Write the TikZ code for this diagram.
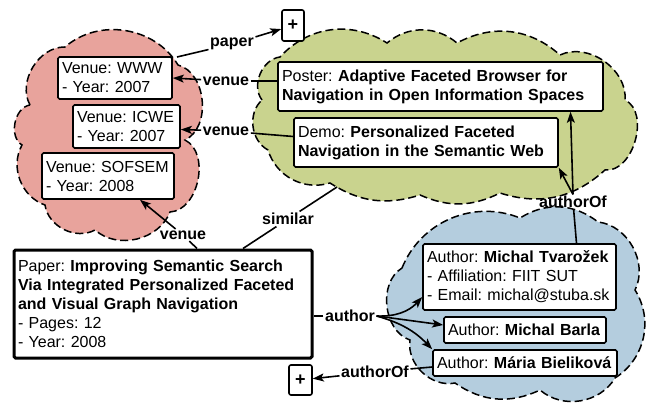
\documentclass[tikz,border=0pt]{standalone}
\usepackage{fontspec}
\setmainfont{Liberation Sans}
\usetikzlibrary{arrows.meta}
\newcommand\dgfs{\fontsize{16}{19}\selectfont\frenchspacing}
\newcommand\oneline[1]{\mbox{#1}}
\definecolor{redcl}{RGB}{232,163,156}
\definecolor{greencl}{RGB}{201,211,142}
\definecolor{bluecl}{RGB}{180,205,222}
\frenchspacing
\begin{document}
\begin{tikzpicture}[x=1pt,y=1pt,
  cloudst/.style={draw=black, line width=1.5pt, dash pattern=on 8pt off 4pt},
  box/.style={draw, fill=white, line width=1.6pt, rounded corners=1.5pt, align=left,
    inner xsep=4pt, inner ysep=0pt, font=\dgfs},
  plusbox/.style={draw, fill=white, line width=1.6pt, rounded corners=2pt,
    minimum width=22pt, minimum height=30pt, inner sep=0pt, font=\fontsize{18}{20}\selectfont\bfseries},
  lab/.style={font=\dgfs\bfseries, inner sep=1.5pt},
  ln/.style={line width=1.6pt},
  arr/.style={-{Stealth[length=11pt,width=8pt,inset=2.5pt]}}
]
\useasboundingbox (0,0) rectangle (652,-403);

% clouds
\path[cloudst, fill=redcl]
  (30,-105) to[bend left=60] (65,-47) to[bend left=50] (178,-65)
  to[bend left=70] (185,-140) to[bend left=75] (170,-212)
  to[bend left=55] (95,-230) to[bend left=55] (45,-205)
  to[bend left=50] (22,-145) to[bend left=70] (30,-105) -- cycle;
\path[cloudst, fill=greencl]
  (262,-100) to[bend left=60] (280,-57) to[bend left=40] (387,-43)
  to[bend left=40] (457,-43) to[bend left=35] (560,-55)
  to[bend left=60] (625,-100) to[bend left=80] (605,-170)
  to[bend left=30] (500,-193) to[bend left=25] (420,-195)
  to[bend left=25] (330,-183) to[bend left=45] (268,-150)
  to[bend left=55] (262,-100) -- cycle;
\path[cloudst, fill=bluecl]
  (402,-268) to[bend left=45] (520,-218) to[bend left=35] (598,-222)
  to[bend left=55] (635,-290) to[bend left=45] (615,-378)
  to[bend left=50] (540,-390) to[bend left=30] (455,-383)
  to[bend left=55] (410,-340) to[bend left=65] (402,-268) -- cycle;

% boxes
\node[box, text width=106pt, minimum height=42pt] (www) at (115,-78)
  {\oneline{Venue: WWW}\\\oneline{- Year: 2007}};
\node[box, text width=99pt, minimum height=43pt] (icwe) at (126.5,-126.5)
  {\oneline{Venue: ICWE}\\\oneline{- Year: 2007}};
\node[box, text width=124pt, minimum height=46pt] (sofsem) at (108,-176)
  {\oneline{Venue: SOFSEM}\\\oneline{- Year: 2008}};
\node[box, text width=317pt, minimum height=49pt] (poster) at (440.5,-86.5)
  {\oneline{Poster: \textbf{Adaptive Faceted Browser for}}\\\oneline{\textbf{Navigation in Open Information Spaces}}};
\node[box, text width=256pt, minimum height=49pt] (demo) at (426,-142.5)
  {\oneline{Demo: \textbf{Personalized Faceted}}\\\oneline{\textbf{Navigation in the Semantic Web}}};
\node[box, line width=3pt, text width=290pt, minimum height=108pt] (paper) at (163,-304)
  {\oneline{Paper: \textbf{Improving Semantic Search}}\\\oneline{\textbf{Via Integrated Personalized Faceted}}\\\oneline{\textbf{and Visual Graph Navigation}}\\\oneline{- Pages: 12}\\\oneline{- Year: 2008}};
\node[box, text width=185pt, minimum height=66pt] (mt) at (519.5,-277)
  {\oneline{Author: \textbf{Michal Tvarožek}}\\\oneline{- Affiliation: FIIT SUT}\\\oneline{- Email: michal@stuba.sk}};
\node[box, text width=154pt, minimum height=26pt] (barla) at (525,-330)
  {\oneline{Author: \textbf{Michal Barla}}};
\node[box, text width=176pt, minimum height=26pt] (maria) at (525,-363)
  {\oneline{Author: \textbf{Mária Bieliková}}};
\node[plusbox, minimum height=31pt] (plus1) at (293,-25.5) {+};
\node[plusbox, minimum width=23pt] (plus2) at (300.5,-380) {+};

% labels
\node[lab] (lpaper) at (232,-44) {paper};
\node[lab] (lv1) at (226,-81) {venue};
\node[lab] (lv2) at (226,-131) {venue};
\node[lab] (lv3) at (183,-235) {venue};
\node[lab] (lsim) at (288,-219) {similar};
\node[lab] (laof1) at (573,-202) {authorOf};
\node[lab] (la) at (350,-316) {author};
\node[lab] (laof2) at (375,-372) {authorOf};

\coordinate (cr) at (177,-57);
\coordinate (gs) at (337,-187);

% connectors
\draw[ln] (cr) -- (lpaper);
\draw[ln,arr] (lpaper) -- (plus1);
\draw[ln] (lv1) -- (lv1 -| poster.west);
\draw[ln,arr] (lv1) -- (www.east);
\draw[ln] (lv2) -- ([yshift=6pt]demo.west);
\draw[ln,arr] (lv2) -- ([yshift=-3pt]icwe.east);
\draw[ln] (lv3) -- ([xshift=34pt]paper.north);
\draw[ln,arr] (lv3) -- ([xshift=32pt]sofsem.south);
\draw[ln] ([xshift=80pt]paper.north) -- (lsim);
\draw[ln] (lsim) -- (gs);
\draw[ln] ([xshift=57pt]mt.north) -- (laof1);
\draw[ln,arr] (laof1.north) -- ([xshift=130pt]poster.south);
\draw[ln,arr] (laof1.north) -- (demo.south east);
\draw[ln] (la) -- (la -| paper.east);
\draw[ln,arr] (la.east) to[bend right=25] ([yshift=-20pt]mt.west);
\draw[ln,arr] (la.east) -- ([yshift=5pt]barla.west);
\draw[ln,arr] (la.east) to[bend left=15] (maria.north west);
\draw[ln] ([yshift=-4pt]maria.west) -- (laof2);
\draw[ln,arr] (laof2) -- (plus2);
\end{tikzpicture}
\end{document}
